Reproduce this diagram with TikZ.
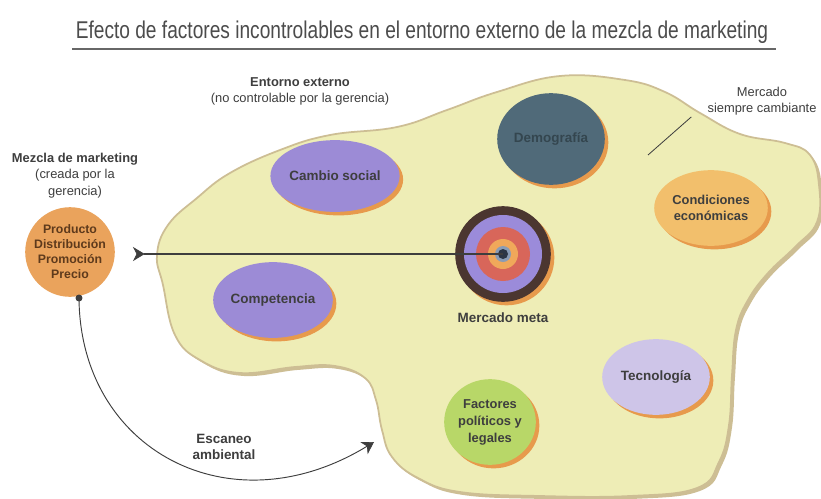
\documentclass[tikz,border=0pt]{standalone}
\usepackage{fontspec}
\setmainfont{Liberation Sans}
\usepackage{graphicx}
\usepackage{tikz}
\usetikzlibrary{shapes,arrows.meta,shadows}

\definecolor{blobFill}{HTML}{EEEDB6}
\definecolor{blobEdge}{HTML}{CDBE94}
\definecolor{inkGray}{HTML}{3E3E3E}
\definecolor{titleGray}{HTML}{4C4C4C}
\definecolor{mixOrange}{HTML}{EAA35C}
\definecolor{mixText}{HTML}{5E3A1C}
\definecolor{shadowOrange}{HTML}{E79A4C}
\definecolor{socialPurple}{HTML}{9C8BD6}
\definecolor{demoSlate}{HTML}{506A79}
\definecolor{demoText}{HTML}{34464F}
\definecolor{econOrange}{HTML}{F2BF6C}
\definecolor{techLilac}{HTML}{CEC5E8}
\definecolor{politGreen}{HTML}{B8D768}
\definecolor{ringBrown}{HTML}{4B3630}
\definecolor{ringPurple}{HTML}{9B8BDA}
\definecolor{ringRed}{HTML}{D8665A}
\definecolor{ringOrange}{HTML}{F0A85A}
\definecolor{ringBlue}{HTML}{8A9CB5}
\definecolor{ringCore}{HTML}{2C3645}

\tikzset{
  factor/.style={ellipse, inner sep=0pt, align=center, text=inkGray,
    font=\fontsize{11.5}{14}\selectfont\bfseries,
    drop shadow={shadow xshift=3pt, shadow yshift=-3pt, opacity=1, fill=shadowOrange}},
  oval/.style 2 args={minimum width=#1*0.8504pt, minimum height=#2*0.8504pt},
  note/.style={align=center, text=inkGray, inner sep=0pt,
    font=\fontsize{11}{14}\selectfont},
  boldnote/.style={note, font=\fontsize{11.5}{14}\selectfont\bfseries},
  aim/.style={draw=inkGray, line width=1pt,
    {Stealth[reversed, length=10pt, width=12pt, inset=3pt, line width=0.6pt]}-},
  scan/.style={draw=inkGray, line width=0.8pt,
    -{Stealth[length=10pt, width=12pt, inset=3pt, line width=0.6pt]}},
}

\begin{document}
\begin{tikzpicture}[x=0.03cm, y=-0.03cm]
        %--- Arguments ----
        \def \px {0.8504pt} % one pixel of the reference
        %--- Background ---
        \useasboundingbox [fill=white] (0,0) rectangle (821,498);
        %--- Title ---
        \node [text=titleGray, inner sep=0pt, anchor=base] (title) at (422,38)
          {\resizebox{591pt}{15pt}{\fontsize{20}{24}\selectfont Efecto de factores incontrolables en el entorno externo de la mezcla de marketing}};
        \draw [titleGray!85, line width=2.5pt] (72,49) -- (776,49);
        %--- Environment ---
        \path [fill=blobFill, draw=blobEdge, line width=1.5pt,
          drop shadow={shadow xshift=2.5pt, shadow yshift=-2.5pt, opacity=1, fill=blobEdge}]
          plot [smooth cycle, tension=0.7] coordinates {
          (163,285) (157,255) (168,225) (197,198) (230,173) (280,150) (330,135)
          (397,127) (447,110) (497,92) (560,76) (625,80) (665,92) (700,113)
          (740,134) (785,143) (810,155) (819,185) (817,222) (795,247) (768,273)
          (748,300) (736,330) (732,375) (729,425) (719,462) (697,488) (630,496)
          (540,496) (460,492) (418,478) (392,457) (382,430) (376,400) (365,378)
          (335,366) (295,367) (240,373) (200,360) (175,335)};
        %--- Factors ---
        \node [factor, oval={112}{72}, fill=socialPurple] (social) at (335,176) {Cambio social};
        \node [factor, oval={108}{92}, fill=demoSlate, text=demoText] (demo) at (551,139) {Demograf\'ia};
        \node [factor, oval={114}{76}, fill=econOrange, font=\fontsize{11}{14}\selectfont\bfseries] (econ) at (711,208) {Condiciones\\econ\'omicas};
        \node [factor, oval={114}{76}, fill=socialPurple] (compet) at (273,300) {Competencia};
        \node [factor, oval={108}{76}, fill=techLilac] (tech) at (656,377) {Tecnolog\'ia};
        \node [factor, oval={92}{86}, fill=politGreen, font=\fontsize{11}{14.5}\selectfont\bfseries] (polit) at (490,422) {Factores\\pol\'iticos y\\legales};
        %--- Target market ---
        \node [circle, inner sep=0pt, minimum size=96*\px, fill=ringBrown,
          drop shadow={shadow xshift=3pt, shadow yshift=-3pt, opacity=1, fill=shadowOrange}] (target) at (503,254) {};
        \fill [ringPurple] (target.center) circle (39);
        \fill [ringRed] (target.center) circle (27);
        \fill [ringOrange] (target.center) circle (15);
        \fill [ringBlue] (target.center) circle (8);
        \fill [ringCore] (target.center) circle (5);
        \node [boldnote] (meta) at (503,318) {Mercado meta};
        %--- Marketing mix ---
        \node [circle, inner sep=0pt, minimum size=88*\px, fill=mixOrange, text=mixText, align=center,
          font=\fontsize{10.5}{12.8}\selectfont\bfseries] (mix) at (70,252) {Producto\\Distribuci\'on\\Promoci\'on\\Precio};
        \node [circle, inner sep=0pt, minimum size=7*\px, fill=inkGray] (dot) at (79,298) {};
        \coordinate (tail) at (133,254);
        \coordinate (scanEnd) at (374,442);
        %--- Connectors ---
        \draw [aim] (tail) -- (target.center);
        \draw [scan] (dot.center) .. controls (80,450) and (230,530) .. (scanEnd);
        %--- Outer labels ---
        \node [note, anchor=north] (mezcla) at (75,153) {\textbf{Mezcla de marketing}\\(creada por la\\gerencia)};
        \node [note, anchor=north] (entorno) at (300,77) {\textbf{Entorno externo}\\(no controlable por la gerencia)};
        \node [note, anchor=north] (cambiante) at (762,87) {Mercado\\siempre cambiante};
        \coordinate (mercEnd) at (648,155);
        \draw [inkGray, line width=0.7pt] ([shift={(-16,1)}]cambiante.south west) -- (mercEnd);
        \node [boldnote] (escaneo) at (224,447) {Escaneo\\ambiental};
    \end{tikzpicture}
\end{document}
